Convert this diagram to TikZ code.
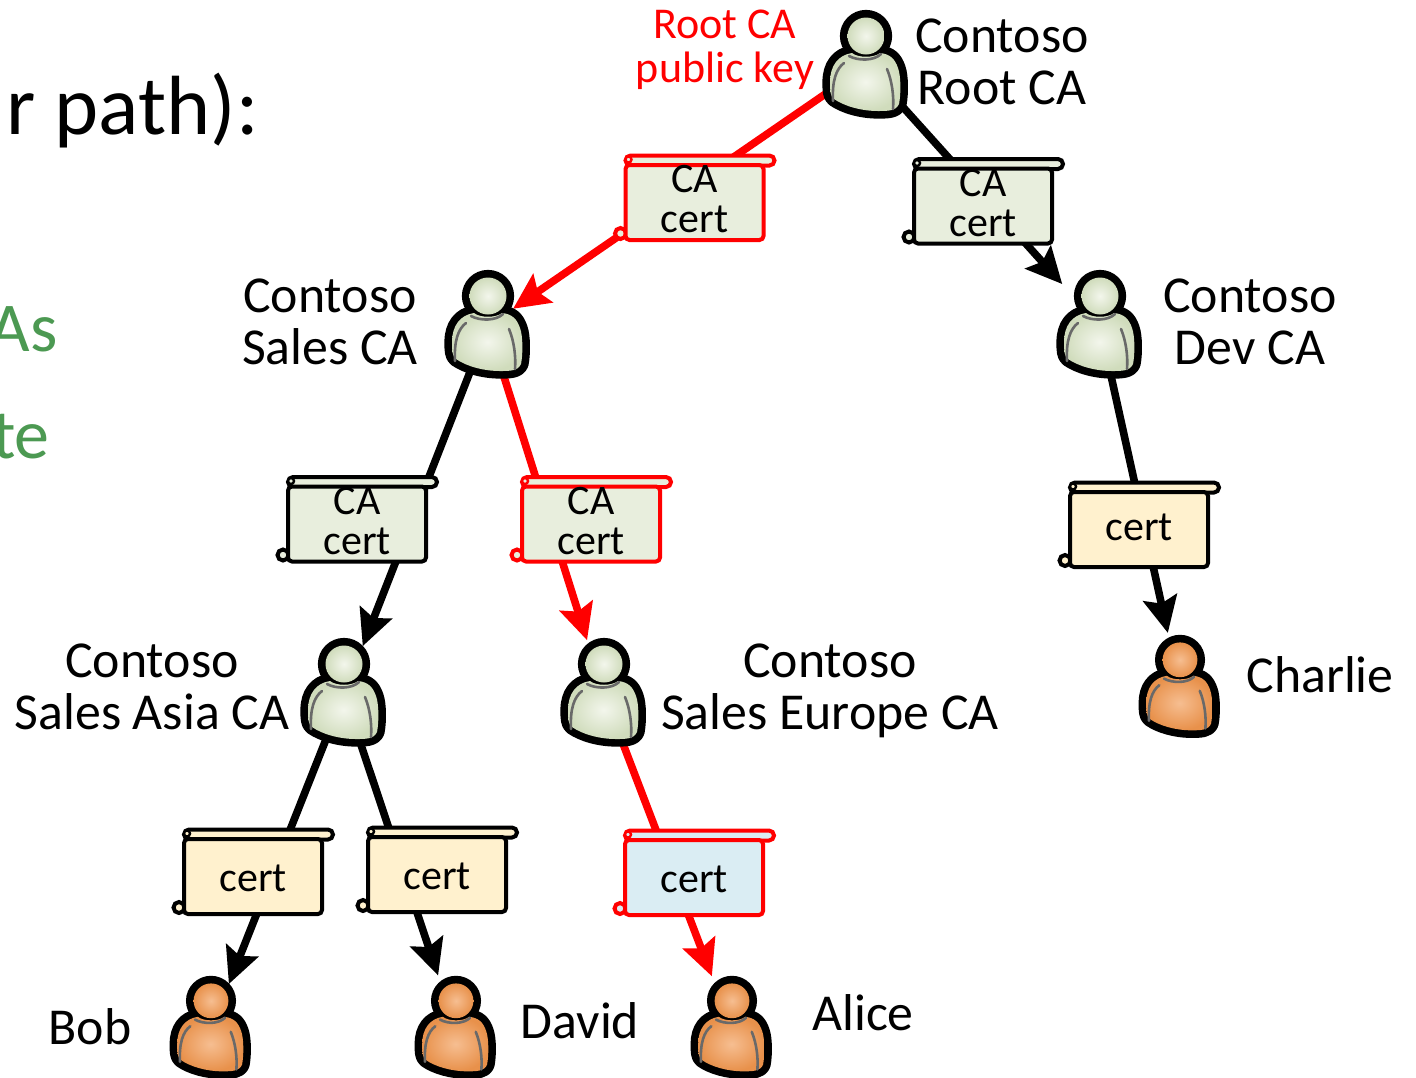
\documentclass[tikz,border=0pt]{standalone}
\usepackage{fontspec}
\setmainfont{Carlito}
\usetikzlibrary{arrows.meta,backgrounds}
\definecolor{cagreen}{RGB}{232,238,221}
\definecolor{certyellow}{RGB}{255,241,206}
\definecolor{certblue}{RGB}{218,237,243}
\definecolor{titlegreen}{RGB}{76,153,82}
\definecolor{armgray}{RGB}{105,105,105}
\definecolor{greenin}{RGB}{243,246,236}
\definecolor{greenout}{RGB}{208,220,188}
\definecolor{orangein}{RGB}{246,190,145}
\definecolor{orangeout}{RGB}{232,145,75}
\newcommand{\bodyoutline}{(-14,-13) .. controls (-28,-11) and (-36,0) .. (-36,16) .. controls (-36,24) and (-36,30) .. (-32,33) .. controls (-22,40) and (-5,45) .. (12,45) .. controls (22,45) and (30,45) .. (33,38) .. controls (35,28) and (35,10) .. (32,2) .. controls (29,-7) and (24,-12) .. (14,-13) .. controls (8,-8) and (-8,-8) .. (-14,-13) -- cycle}
\tikzstyle{greenshade}=[inner color=greenin,outer color=greenout]
\tikzstyle{orangeshade}=[inner color=orangein,outer color=orangeout]
\tikzset{person/.style 2 args={circle,minimum size=56pt,inner sep=0pt,
append after command={
\pgfextra{\begin{scope}[shift={(\tikzlastnode.center)},scale=#2]
\draw[line width=7.6pt,line join=round] \bodyoutline;
\draw[line width=7.6pt] (0,-30) circle[radius=18.5];
\shade[#1] \bodyoutline;
\shade[#1] (0,-30) circle[radius=18.5];
\draw[armgray,line width=1.3pt,line cap=round] (-17,-10) .. controls (-8,-5) and (8,-5) .. (15,-12);
\draw[armgray,line width=1.3pt,line cap=round] (-22,-3) .. controls (-30,3) and (-34,15) .. (-33,35);
\draw[armgray,line width=1.3pt,line cap=round] (21,3) .. controls (26,15) and (28,30) .. (27,43);
\end{scope}}}}}
\tikzset{scroll/.style 2 args={draw=#1,fill=#2,line width=2pt,minimum width=69pt,minimum height=37.5pt,inner sep=0pt,rounded corners=2pt,
append after command={
\pgfextra{\begin{scope}[shift={(\tikzlastnode.center)}]
\draw[#1,fill=#2,line width=2pt,rounded corners=2.5pt] (-69,-47) rectangle (80,-37);
\draw[#1,line width=1.2pt,fill=#2] (-66,-43) circle[radius=3];
\draw[#1,line width=2pt,fill=#2] (-74,31) circle[radius=5.5];
\end{scope}}}}}
\tikzstyle{certtext}=[inner sep=0pt,align=center,font=\fontsize{21}{20}\selectfont]
\tikzstyle{bigtext}=[inner sep=0pt,anchor=base east]
\tikzstyle{namelabel}=[inner sep=0pt,align=center,font=\fontsize{25.9}{26}\selectfont]
\tikzstyle{link}=[line width=3.8pt,shorten <=-6pt]
\tikzstyle{linkarrow}=[link,-{Stealth[length=18pt,width=17pt,inset=3pt]}]
\begin{document}
\begin{tikzpicture}[x=0.5pt,y=-0.5pt]
\useasboundingbox (0,0) rectangle (1416,1077);
\node[bigtext,font=\fontsize{42}{44}\selectfont] (titleline) at (259,134) {r path):};
\node[bigtext,text=titlegreen,font=\fontsize{35}{38}\selectfont] (greenone) at (58,351) {As};
\node[bigtext,text=titlegreen,font=\fontsize{35}{38}\selectfont] (greentwo) at (50,458) {te};
\node[person={greenshade}{1}] (root) at (866,66) {};
\node[person={greenshade}{1}] (salesca) at (488,326) {};
\node[person={greenshade}{1}] (devca) at (1100,326) {};
\node[person={greenshade}{1}] (asiaca) at (344,694) {};
\node[person={greenshade}{1}] (europeca) at (604,694) {};
\node[person={orangeshade}{0.94}] (charlie) at (1180,688) {};
\node[person={orangeshade}{0.94}] (bob) at (211,1029) {};
\node[person={orangeshade}{0.94}] (david) at (456,1029) {};
\node[person={orangeshade}{0.94}] (alice) at (732,1029) {};
\node[scroll={red}{cagreen}] (rootcert) at (694.5,202.5) {};
\node[scroll={black}{cagreen}] (devcert) at (983,206) {};
\node[scroll={black}{cagreen}] (asiacert) at (357,524) {};
\node[scroll={red}{cagreen}] (europecert) at (591,524) {};
\node[scroll={black}{certyellow}] (charliecert) at (1139,529.5) {};
\node[scroll={black}{certyellow}] (bobcert) at (253,876.5) {};
\node[scroll={black}{certyellow}] (davidcert) at (437,874.5) {};
\node[scroll={red}{certblue}] (alicecert) at (694,877.5) {};
\node[certtext] (rootcerttext) at (694.5,199) {CA\\cert};
\node[certtext] (devcerttext) at (983,203) {CA\\cert};
\node[certtext] (asiacerttext) at (357,521) {CA\\cert};
\node[certtext] (europecerttext) at (591,521) {CA\\cert};
\node[certtext] (charliecerttext) at (1139,527) {cert};
\node[certtext] (bobcerttext) at (253,878) {cert};
\node[certtext] (davidcerttext) at (437,876) {cert};
\node[certtext] (alicecerttext) at (694,879) {cert};
\node[namelabel,text=red,font=\fontsize{22}{22}\selectfont] (rootkey) at (725,50) {Root CA\\public key};
\node[namelabel] (rootname) at (1002,62) {Contoso\\Root CA};
\node[namelabel] (salesname) at (330,322) {Contoso\\Sales CA};
\node[namelabel] (devname) at (1250,322) {Contoso\\Dev CA};
\node[namelabel] (asianame) at (152,687) {Contoso\\Sales Asia CA};
\node[namelabel] (europename) at (830,691) {Contoso\\Sales Europe CA};
\node[namelabel] (charliename) at (1320,675) {Charlie};
\node[namelabel] (bobname) at (90,1027) {Bob};
\node[namelabel] (davidname) at (580,1021) {David};
\node[namelabel] (alicename) at (863,1013) {Alice};
\begin{scope}[on background layer]
\draw[linkarrow,red,shorten >=-13pt] (root) -- (salesca);
\draw[linkarrow] (root) -- (devca);
\draw[linkarrow,shorten >=-2.5pt] (salesca) -- (asiaca);
\draw[linkarrow,red] (salesca) -- (europeca);
\draw[linkarrow] (devca) -- (charlie);
\draw[linkarrow,shorten >=-4pt] (asiaca) -- (bob);
\draw[linkarrow] (asiaca) -- (david);
\draw[linkarrow,red] (europeca) -- (alice);
\end{scope}
\end{tikzpicture}
\end{document}
